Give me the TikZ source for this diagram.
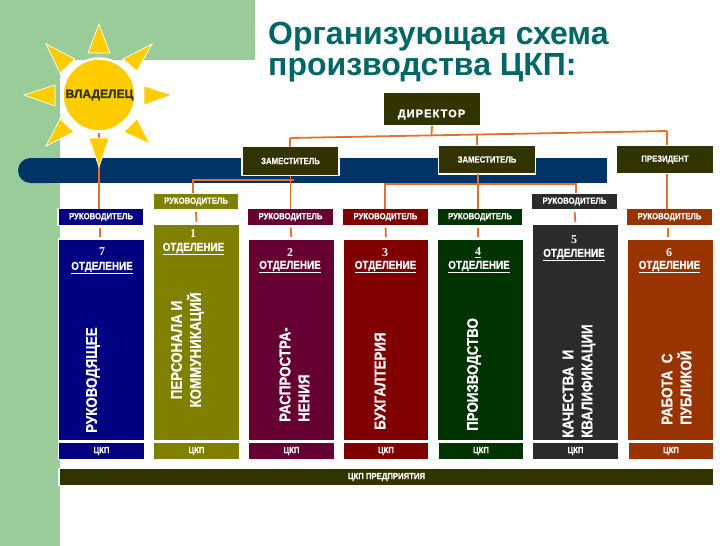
\documentclass[tikz,border=0pt]{standalone}
\usepackage{fontspec}
\setmainfont{Liberation Sans}
\newfontfamily\numfont{Liberation Serif}
\newfontfamily\narrowfont[FakeStretch=0.86,BoldFeatures={FakeBold=0.5}]{Liberation Sans}
\newfontfamily\heavyfont[BoldFeatures={FakeBold=1.5}]{Liberation Sans}
\usepackage{tikz}
\definecolor{greenback}{HTML}{99CC99}
\definecolor{sunyellow}{HTML}{FFCC00}
\definecolor{barblue}{HTML}{003366}
\definecolor{linecolor}{HTML}{E0722E}
\definecolor{headcolor}{HTML}{333300}
\definecolor{titlecolor}{HTML}{006666}
\definecolor{deptblue}{HTML}{000080}
\definecolor{deptolive}{HTML}{808000}
\definecolor{deptpurple}{HTML}{660033}
\definecolor{deptred}{HTML}{800000}
\definecolor{deptgreen}{HTML}{003300}
\definecolor{deptdark}{HTML}{2B2B2B}
\definecolor{deptbrown}{HTML}{993300}
\tikzset{
	boxstyle/.style={rectangle,draw=white,line width=1.2pt,inner sep=0pt,outer sep=0pt,text=white,font=\narrowfont\bfseries\fontsize{9}{10}\selectfont},
	headstyle/.style={boxstyle,fill=headcolor,minimum width=97pt,minimum height=29pt},
	bossstyle/.style={boxstyle,minimum width=86pt,minimum height=17pt},
	deptstyle/.style={boxstyle,minimum width=85.5pt},
	cfpstyle/.style={boxstyle,minimum width=85.5pt,minimum height=16.5pt},
	numstyle/.style={inner sep=0pt,text=white,font=\numfont\bfseries\fontsize{12}{12}\selectfont},
	sectstyle/.style={inner sep=0pt,text=white,font=\narrowfont\bfseries\fontsize{11.5}{12}\selectfont},
	vertstyle/.style={inner sep=0pt,text=white,rotate=90,anchor=west,align=left,font=\narrowfont\bfseries\fontsize{15.5}{19}\selectfont},
	linkstyle/.style={draw=linecolor,line width=1.8pt},
	raystyle/.style={fill=sunyellow,draw=white,line width=0.7pt}
}
\begin{document}
\begin{tikzpicture}[x=1pt,y=-1pt]
	\useasboundingbox (0,0) rectangle (728,546);
	\fill[white] (0,0) rectangle (728,546);
	% background
	\fill[greenback] (0,0) rectangle (255,60);
	\fill[greenback] (0,0) rectangle (60,546);
	\fill[barblue,rounded corners=12.5pt] (18,158) rectangle (60,183);
	\fill[barblue] (35,158) rectangle (607,183);
	% title
	\node[inner sep=0pt,anchor=north west,align=left,text=titlecolor,font=\bfseries\fontsize{32}{31}\selectfont] (title) at (268,22) {Организующая схема\\производства ЦКП:};
	% sun
	\node[circle,fill=sunyellow,draw=white,line width=2.5pt,minimum size=73pt,inner sep=0pt] (sun) at (99,95) {};
	\node[inner sep=0pt,text=headcolor,font=\heavyfont\bfseries\fontsize{12}{12}\selectfont] (owner) at (99.5,95) {ВЛАДЕЛЕЦ};
	% heads
	\node[headstyle,minimum width=98pt,minimum height=34pt] (director) at (432,109) {};
	\node[inner sep=0pt,text=white,font=\heavyfont\bfseries\fontsize{11}{11}\addfontfeature{LetterSpace=10}\selectfont] (directortext) at (431.5,114.5) {ДИРЕКТОР};
	\node[headstyle] (deputya) at (290.5,161) {\raisebox{-4pt}{ЗАМЕСТИТЕЛЬ}};
	\node[headstyle] (deputyb) at (487,159.5) {\raisebox{-3pt}{ЗАМЕСТИТЕЛЬ}};
	\node[headstyle] (president) at (665,159.5) {\raisebox{-3pt}{ПРЕЗИДЕНТ}};
	% bosses
	\node[bossstyle,fill=deptblue] (bossblue) at (101,217) {РУКОВОДИТЕЛЬ};
	\node[bossstyle,fill=deptolive] (bossolive) at (196,201.5) {РУКОВОДИТЕЛЬ};
	\node[bossstyle,fill=deptpurple] (bosspurple) at (290.5,217) {РУКОВОДИТЕЛЬ};
	\node[bossstyle,fill=deptred] (bossred) at (385.5,217) {РУКОВОДИТЕЛЬ};
	\node[bossstyle,fill=deptgreen] (bossgreen) at (480,217) {РУКОВОДИТЕЛЬ};
	\node[bossstyle,fill=deptdark] (bossdark) at (574.5,201.5) {РУКОВОДИТЕЛЬ};
	\node[bossstyle,fill=deptbrown] (bossbrown) at (669.5,217) {РУКОВОДИТЕЛЬ};
	% departments
	\node[deptstyle,fill=deptblue,minimum height=202pt] (blue) at (101.5,340) {};
	\node[deptstyle,fill=deptolive,minimum height=217pt] (olive) at (196.5,332.5) {};
	\node[deptstyle,fill=deptpurple,minimum height=202pt] (purple) at (291.5,340) {};
	\node[deptstyle,fill=deptred,minimum height=202pt] (red) at (386,340) {};
	\node[deptstyle,fill=deptgreen,minimum height=202pt] (green) at (480.5,340) {};
	\node[deptstyle,fill=deptdark,minimum height=217pt] (dark) at (575.5,332.5) {};
	\node[deptstyle,fill=deptbrown,minimum height=202pt] (brown) at (670.5,340) {};
	% bottom boxes
	\node[cfpstyle,fill=deptblue] (cfpblue) at (101.5,451) {ЦКП};
	\node[cfpstyle,fill=deptolive] (cfpolive) at (196.5,451) {ЦКП};
	\node[cfpstyle,fill=deptpurple] (cfppurple) at (291.5,451) {ЦКП};
	\node[cfpstyle,fill=deptred] (cfpred) at (386,451) {ЦКП};
	\node[cfpstyle,fill=deptgreen] (cfpgreen) at (481,451) {ЦКП};
	\node[cfpstyle,fill=deptdark] (cfpdark) at (575.5,451) {ЦКП};
	\node[cfpstyle,fill=deptbrown] (cfpbrown) at (671,451) {ЦКП};
	\node[boxstyle,fill=headcolor,minimum width=655pt,minimum height=16.5pt] (cfpall) at (386.5,477) {ЦКП ПРЕДПРИЯТИЯ};
	% numbers
	\node[numstyle] (numblue) at (102,252) {7};
	\node[numstyle] (numolive) at (193,234) {1};
	\node[numstyle] (numpurple) at (290,253) {2};
	\node[numstyle] (numred) at (385,253) {3};
	\node[numstyle] (numgreen) at (478,253) {\underline{4}};
	\node[numstyle] (numdark) at (574,240) {5};
	\node[numstyle] (numbrown) at (669,253) {6};
	\node[sectstyle] (sectblue) at (102,268) {\underline{ОТДЕЛЕНИЕ}};
	\node[sectstyle] (sectolive) at (193.5,249) {\underline{ОТДЕЛЕНИЕ}};
	\node[sectstyle] (sectpurple) at (290,267) {\underline{ОТДЕЛЕНИЕ}};
	\node[sectstyle] (sectred) at (385.5,267) {\underline{ОТДЕЛЕНИЕ}};
	\node[sectstyle] (sectgreen) at (479,267) {\underline{ОТДЕЛЕНИЕ}};
	\node[sectstyle] (sectdark) at (574,255) {\underline{ОТДЕЛЕНИЕ}};
	\node[sectstyle] (sectbrown) at (669.5,267) {\underline{ОТДЕЛЕНИЕ}};
	% names
	\node[vertstyle] (nameblue) at (93,433) {РУКОВОДЯЩЕЕ};
	\node[vertstyle,align=center,anchor=center] (nameolive) at (187.5,350) {ПЕРСОНАЛА И\\КОММУНИКАЦИЙ};
	\node[vertstyle] (namepurple) at (294.5,422) {РАСПРОСТРА-\\НЕНИЯ};
	\node[vertstyle] (namered) at (380,430) {БУХГАЛТЕРИЯ};
	\node[vertstyle] (namegreen) at (474,431) {ПРОИЗВОДСТВО};
	\node[vertstyle] (namedark) at (579,438) {КАЧЕСТВА\ \ И\\КВАЛИФИКАЦИИ};
	\node[vertstyle] (namebrown) at (676.5,425) {РАБОТА\ \ С\\ПУБЛИКОЙ};
	% links
	\coordinate (topleft) at (290,138);
	\coordinate (topright) at (667,131);
	\coordinate (topdirector) at (431.5,134.5);
	\coordinate (topdeputy) at (477,133.5);
	\draw[linkstyle] (sun.south) -- (sun.south |- bossblue.north);
	\draw[linkstyle] (topleft) -- (topright);
	\draw[linkstyle] (director.south) -- (topdirector);
	\draw[linkstyle] (topleft) -- (topleft |- deputya.north);
	\draw[linkstyle] (topdeputy) -- (topdeputy |- deputyb.north);
	\draw[linkstyle] (topright) -- (topright |- president.north);
	\coordinate (leftturn) at (193,180);
	\coordinate (leftend) at (294,180);
	\draw[linkstyle] (bossolive.north -| leftturn) -- (leftturn) -- (leftend);
	\draw[linkstyle] (deputya.south) -- (bosspurple.north);
	\coordinate (midleft) at (385,184);
	\coordinate (midright) at (576,184);
	\draw[linkstyle] (bossred.north -| midleft) -- (midleft) -- (midright) -- (midright |- bossdark.north);
	\coordinate (deputybfoot) at (478,174);
	\draw[linkstyle] (deputybfoot) -- (deputybfoot |- bossgreen.north);
	\draw[linkstyle] (president.south -| topright) -- (topright |- bossbrown.north);
	\coordinate (stubblue) at (100,230);
	\coordinate (stubgreen) at (478,230);
	\coordinate (stubbrown) at (668,230);
	\draw[linkstyle,shorten <=2pt,shorten >=2pt] (bossblue.south -| stubblue) -- (blue.north -| stubblue);
	\draw[linkstyle,shorten <=2pt,shorten >=2pt] (bossolive.south) -- (olive.north);
	\draw[linkstyle,shorten <=2pt,shorten >=2pt] (bosspurple.south) -- (purple.north);
	\draw[linkstyle,shorten <=2pt,shorten >=2pt] (bossred.south) -- (red.north);
	\draw[linkstyle,shorten <=2pt,shorten >=2pt] (bossgreen.south -| stubgreen) -- (green.north -| stubgreen);
	\draw[linkstyle,shorten <=2pt,shorten >=2pt] (bossdark.south) -- (dark.north);
	\draw[linkstyle,shorten <=2pt,shorten >=2pt] (bossbrown.south -| stubbrown) -- (brown.north -| stubbrown);
	% rays
	\draw[raystyle] (99,24) -- (88,53) -- (110,53) -- cycle;
	\draw[raystyle] (172,95) -- (144,86) -- (144,105) -- cycle;
	\draw[raystyle] (24,95) -- (55,85) -- (55,106) -- cycle;
	\draw[raystyle] (99,167) -- (89,138) -- (109,138) -- cycle;
	\draw[raystyle] (46,44) -- (75,59) -- (60,73) -- cycle;
	\draw[raystyle] (152,44) -- (123,59) -- (137,71) -- cycle;
	\draw[raystyle] (46,146) -- (60,119) -- (74,132) -- cycle;
	\draw[raystyle] (150,144) -- (137,119) -- (124,132) -- cycle;
\end{tikzpicture}
\end{document}
